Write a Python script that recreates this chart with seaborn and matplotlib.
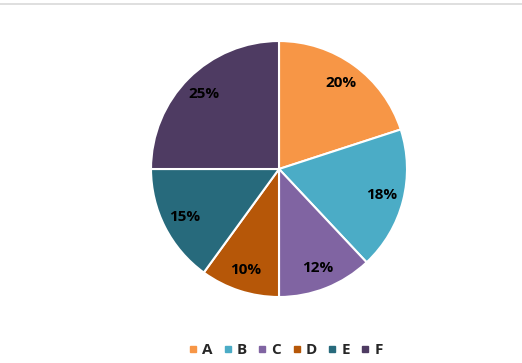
import matplotlib
matplotlib.use("Agg")
import matplotlib.pyplot as plt
from matplotlib.lines import Line2D
import seaborn as sns

# Share of each category
categories = ["A", "B", "C", "D", "E", "F"]
shares = [20, 18, 12, 10, 15, 25]
colors = ["#F79646", "#4BACC6", "#8064A2", "#B65708", "#276A7C", "#4E3B62"]

sns.set_theme(style="white")
plt.rcParams['font.family'] = ['Open Sans', 'DejaVu Sans']

fig = plt.figure(figsize=(5.22, 3.63), dpi=100)
ax = fig.add_axes([0.2893, 0.1818, 0.4904, 0.7052])

wedges, texts, autotexts = ax.pie(
    shares, colors=colors, startangle=90, counterclock=False,
    autopct=lambda p: f"{p:.0f}%", pctdistance=0.83,
    wedgeprops=dict(edgecolor="white", linewidth=1.5),
    textprops=dict(fontsize=11, fontweight="bold", color="black"))
ax.set_xlim(-1, 1)
ax.set_ylim(-1, 1)
ax.set_aspect("equal")
ax.axis("off")

# light grey frame line at the top
fig.add_artist(Line2D([0, 1], [1 - 3.5 / 363] * 2, color="#D9D9D9", linewidth=1.2))

handles = [Line2D([], [], marker="s", linestyle="", markersize=4.5,
                  markerfacecolor=c, markeredgecolor=c) for c in colors]
leg = fig.legend(handles, categories, loc="center", bbox_to_anchor=(0.547, 0.035),
                 ncol=6, frameon=False, handletextpad=0.3, columnspacing=0.7,
                 handlelength=0.6, prop=dict(weight="bold", size=11))

fig.savefig("out.png", dpi=100)
